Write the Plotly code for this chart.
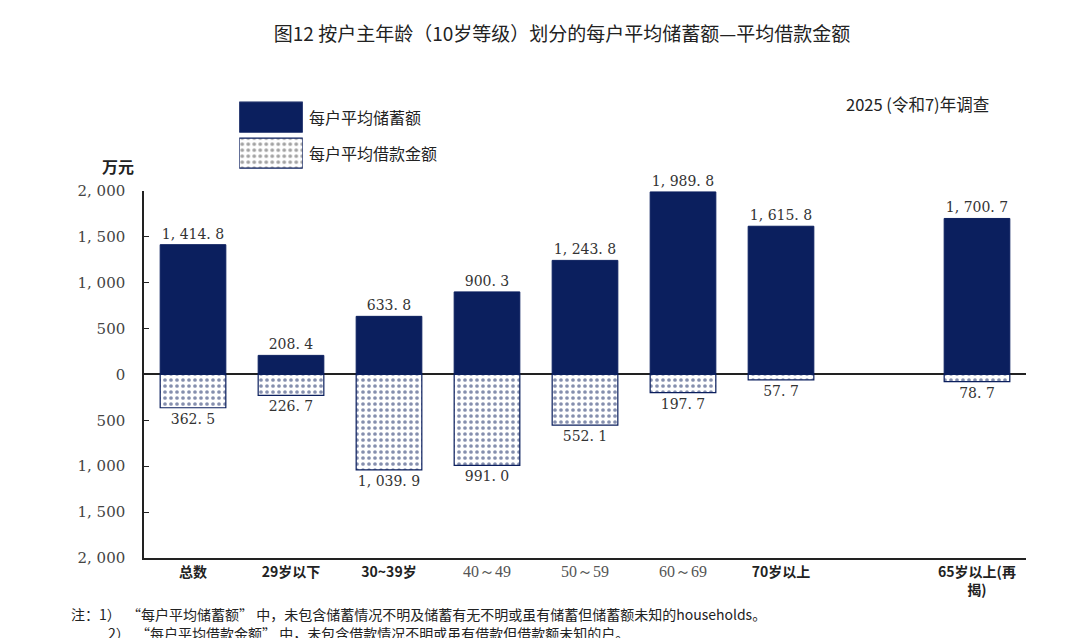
import plotly.graph_objects as go

# data
categories = ['总数', '29岁以下', '30~39岁', '40～49', '50～59', '60～69', '70岁以上', '', '65岁以上(再揭)']
savings = [1414.8, 208.4, 633.8, 900.3, 1243.8, 1989.8, 1615.8, None, 1700.7]
loans = [362.5, 226.7, 1039.9, 991.0, 552.1, 197.7, 57.7, None, 78.7]
ytick_vals = [-2000, -1500, -1000, -500, 0, 500, 1000, 1500, 2000]
legend_names = ['每户平均储蓄额', '每户平均借款金额']

NAVY = '#0b1f5e'
SERIF = 'DejaVu Serif, Liberation Serif, serif'
SANS = 'Noto Sans CJK SC, Noto Sans, sans-serif'


def fmt(v):
    # full-width style punctuation as in the original: "1, 414. 8"
    s = f'{v:,.1f}'
    return s.replace(',', ', ').replace('.', '. ')


def fmt_tick(v):
    return f'{abs(v):,}'.replace(',', ', ')


def fmt_cat(c):
    # age ranges are set in a serif face in the original, the rest in bold sans
    if '～' in c:
        return ('<span style="font-family:Liberation Serif, serif;font-weight:normal;'
                f'font-size:16px;fill:#555555">{c}</span>')
    if c.endswith('(再揭)'):
        return c.replace('(再揭)', '(再<br>揭)')
    return c


x_idx = list(range(len(categories)))
neg_loans = [-v if v is not None else None for v in loans]
dots = dict(shape='.', fgcolor=NAVY, bgcolor='white', size=6, solidity=0.3)

fig = go.Figure()
fig.add_trace(go.Bar(
    x=x_idx, y=savings, width=0.67,
    marker=dict(color=NAVY, line=dict(color=NAVY, width=1)),
    text=[fmt(v) if v is not None else '' for v in savings],
    textposition='outside', cliponaxis=False,
    textfont=dict(family=SERIF, size=14, color='#333333'),
    showlegend=False,
))
fig.add_trace(go.Bar(
    x=x_idx, y=neg_loans, width=0.67,
    marker=dict(color='white', line=dict(color=NAVY, width=1.2), pattern=dots),
    text=[fmt(v) if v is not None else '' for v in loans],
    textposition='outside', cliponaxis=False,
    textfont=dict(family=SERIF, size=14, color='#333333'),
    showlegend=False,
))

# legend swatches drawn on a small hidden axis
fig.add_trace(go.Bar(
    x=[1, 1], y=[0, 1], orientation='h', width=0.83,
    xaxis='x2', yaxis='y2',
    marker=dict(color=[NAVY, 'white'], line=dict(color=NAVY, width=1.2),
                pattern=dict(shape=['', '.'], fgcolor=NAVY, bgcolor=['white', 'white'],
                             size=6, solidity=0.3)),
    hoverinfo='skip', showlegend=False,
))
for i, name in enumerate(legend_names):
    fig.add_annotation(x=1.07, y=i, xref='x2 domain', yref='y2', text=name,
                       showarrow=False, xanchor='left',
                       font=dict(family=SANS, size=16, color='#222222'))

fig.update_layout(
    width=1080, height=638,
    margin=dict(l=136, r=62, t=73, b=88),
    paper_bgcolor='white', plot_bgcolor='white',
    barmode='overlay',
    title=dict(text='图12 按户主年龄（10岁等级）划分的每户平均储蓄额—平均借款金额',
               x=0.513, xanchor='center', y=0.958, yanchor='middle', yref='container',
               font=dict(family=SANS, size=19, color='#222222')),
    xaxis=dict(
        range=[-0.5, 8.5], tickvals=x_idx, ticktext=[fmt_cat(c) for c in categories],
        showline=True, linecolor='#222222', linewidth=1.5,
        ticks='', showgrid=False, zeroline=False,
        tickfont=dict(family=SANS, size=14, color='#222222', weight='bold'),
    ),
    yaxis=dict(
        domain=[0, 0.7694], range=[-2000, 2000],
        tickvals=ytick_vals, ticktext=[fmt_tick(v) for v in ytick_vals],
        showline=True, linecolor='#222222', linewidth=1.5,
        ticks='inside', ticklen=5, tickcolor='#222222',
        showgrid=False, zeroline=True, zerolinecolor='#222222', zerolinewidth=1.5,
        tickfont=dict(family=SERIF, size=15, color='#444444'),
        ticklabelstandoff=14,
    ),
    xaxis2=dict(domain=[0.108, 0.180], range=[0, 1], visible=False, anchor='y2'),
    yaxis2=dict(domain=[0.811, 0.962], range=[1.5, -0.5], visible=False, anchor='x2'),
    annotations=list(fig.layout.annotations) + [
        dict(text='2025 (令和7)年调查', x=0.960, y=0.952, xref='paper', yref='paper',
             xanchor='right', yanchor='middle', showarrow=False,
             font=dict(family=SANS, size=16.5, color='#222222')),
        dict(text='万元', x=-0.029, y=0.822, xref='paper', yref='paper',
             xanchor='center', yanchor='middle', showarrow=False,
             font=dict(family=SANS, size=16, color='#222222', weight='bold')),
        dict(text='注：1）  “每户平均储蓄额” 中，未包含储蓄情况不明及储蓄有无不明或虽有储蓄但储蓄额未知的households。',
             x=-0.085, y=-0.117, xref='paper', yref='paper',
             xanchor='left', yanchor='middle', showarrow=False,
             font=dict(family=SANS, size=14, color='#222222')),
        dict(text='2）  “每户平均借款金额” 中，未包含借款情况不明或虽有借款但借款额未知的户。',
             x=-0.043, y=-0.158, xref='paper', yref='paper',
             xanchor='left', yanchor='middle', showarrow=False,
             font=dict(family=SANS, size=14, color='#222222')),
    ],
)

fig.write_html('out.html')
